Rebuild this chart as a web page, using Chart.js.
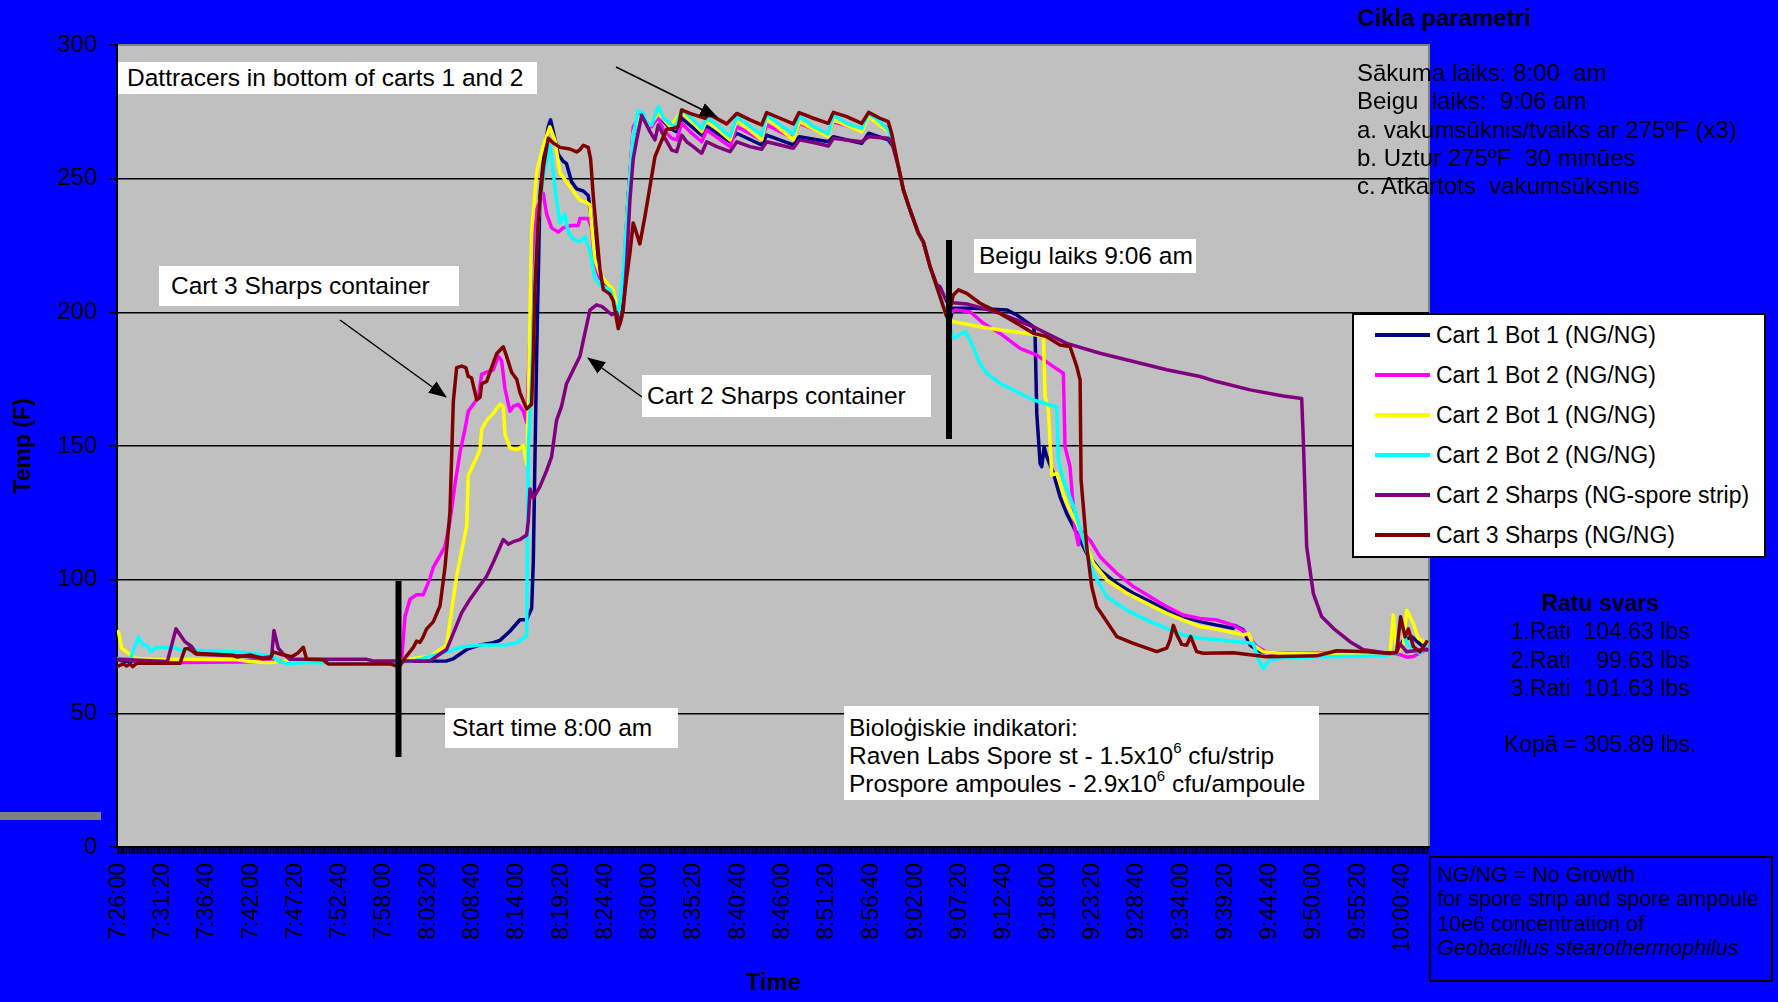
<!DOCTYPE html>
<html>
<head>
<meta charset="utf-8">
<script src="https://cdn.jsdelivr.net/npm/chart.js@4.4.1/dist/chart.umd.min.js"></script>
<style>
    html, body { margin: 0; padding: 0; }
    body {
        width: 1778px; height: 1002px; position: relative; overflow: hidden;
        background: #0000ff; color: #000;
        font-family: "Liberation Sans", Arial, sans-serif;
    }
    #chart { position: absolute; left: 0; top: 0; }
    .note {
        position: absolute; background: #fff; font-size: 24.5px; white-space: nowrap;
        box-sizing: border-box; display: flex; align-items: center;
    }
    .note sup { font-size: 15px; line-height: 0; position: relative; top: -2px; }
    #legend {
        position: absolute; left: 1352px; top: 313px; width: 414px; height: 245px;
        background: #fff; border: 2px solid #000; box-sizing: border-box;
    }
    #legend .row { height: 40px; display: flex; align-items: center; font-size: 23px; white-space: nowrap; }
    #legend .swatch { width: 55px; height: 4px; margin-left: 21px; margin-right: 6px; }
    .txt { position: absolute; font-size: 24px; white-space: nowrap; }
    #overlay { position: absolute; left: 0; top: 0; pointer-events: none; }
</style>
</head>
<body>
<canvas id="chart" width="1778" height="1002"></canvas>

<svg id="overlay" width="1778" height="1002">
    <defs>
        <marker id="ah" markerWidth="18" markerHeight="14" refX="17" refY="7" orient="auto" markerUnits="userSpaceOnUse">
            <path d="M0,0 L18,7 L0,14 z" fill="#000"/>
        </marker>
    </defs>
    <rect x="0" y="812" width="101" height="8" fill="#808080"/>
    <rect x="395.5" y="581" width="6" height="176" fill="#000"/>
    <rect x="946" y="240" width="6" height="199" fill="#000"/>
    <line x1="616" y1="67" x2="717" y2="117" stroke="#000" stroke-width="1.5" marker-end="url(#ah)"/>
    <line x1="340" y1="320" x2="446" y2="397" stroke="#000" stroke-width="1.5" marker-end="url(#ah)"/>
    <line x1="642" y1="397" x2="588" y2="358" stroke="#000" stroke-width="1.5" marker-end="url(#ah)"/>
</svg>

<div class="note" style="left:118px; top:62px; width:419px; height:32px; padding-left:9px;">Dattracers in bottom of carts 1 and 2</div>
<div class="note" style="left:159px; top:266px; width:300px; height:40px; padding-left:12px;">Cart 3 Sharps container</div>
<div class="note" style="left:642px; top:375px; width:289px; height:42px; padding-left:5px;">Cart 2 Sharps container</div>
<div class="note" style="left:445px; top:708px; width:233px; height:40px; padding-left:7px;">Start time 8:00 am</div>
<div class="note" style="left:974px; top:239px; width:222px; height:34px; padding-left:5px;">Beigu laiks 9:06 am</div>
<div class="note" style="left:844px; top:706px; width:475px; height:94px; padding-left:5px; line-height:28px; display:block; padding-top:8px;">
    Bioloģiskie indikatori:<br>
    Raven Labs Spore st - 1.5x10<sup>6</sup> cfu/strip<br>
    Prospore ampoules - 2.9x10<sup>6</sup> cfu/ampoule
</div>

<div class="txt" style="left:1357px; top:4px; font-weight:bold; font-size:24px; line-height:28px;">Cikla parametri</div>
<div class="txt" style="left:1357px; top:59px; line-height:28.3px;">
    Sākuma laiks: 8:00&nbsp; am<br>
    Beigu&nbsp; laiks:&nbsp; 9:06 am<br>
    a. vakumsūknis/tvaiks ar 275ºF (x3)<br>
    b. Uztur 275ºF&nbsp; 30 minūes<br>
    c. Atkārtots&nbsp; vakumsūksnis
</div>

<div id="legend"></div>

<div class="txt" style="left:1430px; top:589px; width:340px; text-align:center; line-height:28.3px; font-size:23px;">
    <b>Ratu svars</b><br>
    1.Rati&nbsp; 104.63 lbs<br>
    2.Rati&nbsp;&nbsp;&nbsp; 99.63 lbs<br>
    3.Rati&nbsp; 101.63 lbs<br>
    <br>
    Kopā = 305.89 lbs.
</div>

<div class="txt" style="left:1429px; top:856px; width:344px; height:126px; border:2px solid #000; box-sizing:border-box; font-size:21.5px; line-height:24.4px; padding:5px 0 0 6px;">
    NG/NG = No Growth<br>
    for spore strip and spore ampoule<br>
    10e6 concentration of<br>
    <i>Geobacillus stearothermophilus</i>
</div>

<script>
(function () {

    //------------------------------ Data (time, °F) ------------------------------

    var seriesNames = ['Cart 1 Bot 1 (NG/NG)', 'Cart 1 Bot 2 (NG/NG)', 'Cart 2 Bot 1 (NG/NG)',
        'Cart 2 Bot 2 (NG/NG)', 'Cart 2 Sharps (NG-spore strip)', 'Cart 3 Sharps (NG/NG)'];
    var seriesColors = ['#000080', '#ff00ff', '#ffff00', '#00ffff', '#800080', '#800000'];

    // x axis labels (one every 16 samples of 20 s)
    var timeLabels = ['7:26:00', '7:31:20', '7:36:40', '7:42:00', '7:47:20', '7:52:40', '7:58:00',
        '8:03:20', '8:08:40', '8:14:00', '8:19:20', '8:24:40', '8:30:00', '8:35:20', '8:40:40',
        '8:46:00', '8:51:20', '8:56:40', '9:02:00', '9:07:20', '9:12:40', '9:18:00', '9:23:20',
        '9:28:40', '9:34:00', '9:39:20', '9:44:40', '9:50:00', '9:55:20', '10:00:40'];
    var yTicks = [0, 50, 100, 150, 200, 250, 300];

    var cart1Bot1 = [
        ['7:26:00', 70], ['7:26:40', 69.5], ['8:05:32', 69.6], ['8:06:20', 70.4], ['8:07:57', 73.9],
        ['8:09:33', 75.6], ['8:11:09', 76.4], ['8:11:57', 77.3], ['8:13:09', 80.7], ['8:14:22', 85],
        ['8:15:10', 85], ['8:15:46', 89.3], ['8:15:58', 106.5], ['8:16:22', 183.6], ['8:16:46', 243.7],
        ['8:17:22', 262.5], ['8:17:46', 269.4], ['8:18:03', 272], ['8:18:22', 267.7], ['8:18:58', 259.1],
        ['8:19:34', 256.5], ['8:19:58', 255.6], ['8:20:35', 248.8], ['8:21:11', 246.2], ['8:21:59', 245.4],
        ['8:22:35', 243.7], ['8:23:11', 230], ['8:23:48', 216.2], ['8:24:24', 211.1], ['8:25:00', 210.2],
        ['8:25:36', 205.9], ['8:26:12', 195.6], ['8:26:48', 211], ['8:27:24', 243.7], ['8:28:00', 266],
        ['8:28:24', 271.1], ['8:29:01', 274.5], ['8:30:01', 269.5], ['8:31:01', 273.8], ['8:32:26', 268.8],
        ['8:33:14', 267.6], ['8:33:50', 272.6], ['8:36:15', 266.3], ['8:36:51', 269.5], ['8:39:39', 263.8],
        ['8:40:28', 267], ['8:43:28', 262.6], ['8:44:04', 266.3], ['8:47:17', 262.6], ['8:48:00', 265.7],
        ['8:51:30', 263.8], ['8:52:06', 265.7], ['8:55:31', 263.2], ['8:56:21', 267], ['8:58:43', 264.5],
        ['8:59:20', 262], ['8:59:56', 254.5], ['9:00:32', 245.8], ['9:01:20', 238.3], ['9:02:20', 229.6],
        ['9:02:56', 226.4], ['9:03:45', 217.1], ['9:04:33', 209.6], ['9:05:21', 202.1], ['9:06:09', 197.1],
        ['9:06:33', 201.5], ['9:08:58', 201.5], ['9:12:59', 200.9], ['9:14:11', 199], ['9:16:11', 194.6],
        ['9:16:24', 190.9], ['9:16:36', 162.2], ['9:17:00', 143.5], ['9:17:12', 142.3], ['9:17:29', 149.7],
        ['9:17:48', 146], ['9:18:36', 139.8], ['9:19:24', 131], ['9:20:12', 124.8], ['9:21:25', 117.3],
        ['9:22:37', 109.8], ['9:24:13', 103.6], ['9:26:14', 98.6], ['9:28:14', 94.9], ['9:30:15', 91.8],
        ['9:32:15', 88.6], ['9:34:15', 86.1], ['9:36:16', 84.3], ['9:38:16', 83], ['9:40:16', 81.8],
        ['9:40:28', 82.8], ['9:41:28', 81.2], ['9:42:17', 75.5], ['9:43:29', 73], ['9:46:17', 72.4],
        ['9:58:20', 72.4], ['9:59:56', 72.8], ['10:00:45', 77.4], ['10:01:47', 78.6], ['10:03:33', 73.7]
    ];

    var cart1Bot2 = [
        ['7:26:00', 70.2], ['7:27:24', 70.2], ['7:28:00', 69.4], ['7:33:49', 69], ['7:46:40', 69.4],
        ['7:59:31', 69.2], ['8:00:07', 70], ['8:00:31', 86.2], ['8:01:07', 92.7], ['8:01:55', 94.4],
        ['8:02:43', 94.4], ['8:03:32', 100.5], ['8:03:56', 104.7], ['8:04:44', 109], ['8:05:20', 112.5],
        ['8:05:56', 121.9], ['8:06:32', 135.6], ['8:07:08', 147.6], ['8:07:44', 156.2], ['8:08:08', 163],
        ['8:08:45', 165.6], ['8:09:21', 168.2], ['8:09:45', 176.8], ['8:10:21', 177.6], ['8:11:09', 178.5],
        ['8:11:45', 183.6], ['8:12:09', 181.9], ['8:12:33', 171.6], ['8:13:09', 163], ['8:13:33', 164.8],
        ['8:14:10', 165.6], ['8:14:46', 163], ['8:15:10', 158.8], ['8:15:46', 209.4], ['8:16:22', 238.5],
        ['8:17:10', 244.5], ['8:17:34', 236.8], ['8:18:10', 231.6], ['8:18:58', 230], ['8:19:34', 231.6],
        ['8:20:35', 232.5], ['8:21:23', 232.5], ['8:21:35', 235.1], ['8:22:35', 235.1], ['8:22:59', 231.6],
        ['8:23:23', 217.9], ['8:23:59', 212.8], ['8:25:12', 209.4], ['8:26:12', 199], ['8:26:48', 213],
        ['8:27:24', 243.7], ['8:28:00', 269.4], ['8:29:01', 274.5], ['8:29:36', 271.1], ['8:30:13', 269.5],
        ['8:31:01', 273.2], ['8:31:38', 268.2], ['8:32:38', 265.1], ['8:33:14', 264.5], ['8:33:50', 270.7],
        ['8:34:50', 267.6], ['8:36:15', 263.8], ['8:36:51', 268.2], ['8:39:39', 262], ['8:40:28', 269.5],
        ['8:43:28', 264.5], ['8:44:04', 270.1], ['8:47:17', 265.1], ['8:48:00', 270.7], ['8:51:30', 266.3],
        ['8:52:06', 271.3], ['8:55:31', 268.2], ['8:56:21', 273.2], ['8:58:43', 268.8], ['8:59:20', 262],
        ['8:59:56', 254.5], ['9:00:32', 245.8], ['9:01:20', 238.3], ['9:02:20', 229.6], ['9:02:56', 226.4],
        ['9:03:45', 217.1], ['9:04:33', 209.6], ['9:05:21', 202.1], ['9:05:57', 196.5], ['9:06:09', 199.6],
        ['9:06:45', 200.9], ['9:08:34', 200.2], ['9:10:10', 195.9], ['9:12:11', 192.1], ['9:14:35', 186.5],
        ['9:16:36', 184], ['9:18:36', 179.7], ['9:19:48', 177.2], ['9:20:00', 149.7], ['9:20:36', 142.3],
        ['9:21:13', 118.6], ['9:21:37', 113], ['9:21:49', 118.6], ['9:23:01', 114.8], ['9:24:13', 108.6],
        ['9:26:14', 102.4], ['9:28:14', 97.4], ['9:30:15', 93.6], ['9:32:15', 89.9], ['9:34:15', 86.8],
        ['9:36:16', 85.5], ['9:38:16', 84.9], ['9:40:16', 83], ['9:41:40', 80.5], ['9:42:17', 78],
        ['9:43:05', 75], ['9:44:17', 72.8], ['9:46:17', 71.9], ['9:58:20', 72.5], ['10:00:20', 72],
        ['10:01:09', 71], ['10:01:57', 71.3], ['10:03:33', 74]
    ];

    var cart2Bot1 = [
        ['7:26:00', 80.6], ['7:26:23', 74.4], ['7:28:00', 70.6], ['7:30:00', 70.2], ['7:40:15', 70],
        ['7:41:51', 69.4], ['7:43:27', 69], ['7:44:40', 69], ['7:46:40', 70], ['7:59:31', 69.5],
        ['8:01:31', 70.5], ['8:03:32', 71.3], ['8:05:32', 75.6], ['8:05:56', 84.2], ['8:06:44', 101.3],
        ['8:07:57', 120.2], ['8:08:08', 139], ['8:09:33', 148.5], ['8:09:45', 156.2], ['8:10:21', 159.6],
        ['8:11:09', 162.2], ['8:11:57', 165.6], ['8:12:21', 164.8], ['8:12:33', 154.5], ['8:13:09', 149.3],
        ['8:13:58', 148.5], ['8:14:46', 150.2], ['8:15:10', 143.3], ['8:15:22', 166.5], ['8:15:46', 229.9],
        ['8:16:22', 252.2], ['8:17:10', 262.5], ['8:17:58', 269.4], ['8:18:35', 264.2], ['8:19:10', 252.2],
        ['8:19:58', 248.8], ['8:20:47', 245.4], ['8:21:35', 241.9], ['8:22:23', 241.1], ['8:22:47', 240.2],
        ['8:23:23', 219.6], ['8:23:59', 214.5], ['8:24:47', 211.1], ['8:25:36', 208.5], ['8:26:12', 199.1],
        ['8:26:48', 212.8], ['8:27:24', 242.8], ['8:28:00', 266.8], ['8:28:36', 272.8], ['8:29:12', 273.7],
        ['8:30:01', 270.1], ['8:31:01', 274.4], ['8:32:26', 269.5], ['8:33:50', 275.1], ['8:36:15', 267.6],
        ['8:36:51', 272], ['8:39:39', 264.5], ['8:40:28', 272], ['8:43:28', 264.5], ['8:44:04', 272.6],
        ['8:47:17', 264.5], ['8:48:00', 271.3], ['8:51:30', 265.7], ['8:52:06', 272], ['8:55:31', 267.6],
        ['8:56:21', 273.2], ['8:58:43', 267.6], ['8:59:20', 262], ['8:59:56', 254.5], ['9:00:32', 245.8],
        ['9:01:20', 238.3], ['9:02:20', 229.6], ['9:02:56', 226.4], ['9:03:45', 217.1], ['9:04:33', 209.6],
        ['9:05:21', 202.1], ['9:05:57', 195.9], ['9:06:09', 197.2], ['9:06:33', 196.5], ['9:09:46', 194.6],
        ['9:12:11', 193.4], ['9:15:23', 192.2], ['9:17:24', 191], ['9:17:36', 168.5], ['9:18:00', 163.5],
        ['9:18:24', 139.1], ['9:19:00', 139.8], ['9:20:12', 128.5], ['9:21:49', 118.6], ['9:23:25', 106.1],
        ['9:25:02', 99.9], ['9:27:26', 94.9], ['9:30:15', 90.5], ['9:32:15', 87.4], ['9:34:15', 84.9],
        ['9:36:16', 82.4], ['9:38:16', 81.5], ['9:41:28', 79.3], ['9:42:05', 79.9], ['9:42:41', 75.5],
        ['9:43:53', 73], ['9:46:17', 72.4], ['9:59:08', 71.8], ['9:59:32', 86.8], ['9:59:56', 72.4],
        ['10:00:45', 76], ['10:01:09', 88.6], ['10:01:57', 83.6], ['10:02:33', 78.1], ['10:03:33', 76]
    ];

    var cart2Bot2 = [
        ['7:26:00', 70.6], ['7:27:24', 70], ['7:28:24', 78.5], ['7:29:00', 75.6], ['7:29:24', 75.6],
        ['7:29:53', 73.1], ['7:30:34', 74.6], ['7:32:50', 74.6], ['7:33:25', 73.7], ['7:37:02', 73.4],
        ['7:40:15', 72.9], ['7:43:27', 71.9], ['7:44:39', 71.2], ['7:45:15', 69.7], ['7:46:15', 68.5],
        ['7:49:04', 69], ['7:59:31', 68.7], ['8:01:31', 69.6], ['8:03:32', 71.3], ['8:05:32', 73],
        ['8:07:08', 74.7], ['8:09:33', 75.6], ['8:12:45', 75.6], ['8:13:58', 76.4], ['8:15:10', 79],
        ['8:15:22', 149.3], ['8:15:46', 175], ['8:16:10', 214.5], ['8:16:34', 235.1], ['8:17:10', 250.5],
        ['8:17:58', 262.5], ['8:18:22', 252.2], ['8:18:46', 241.9], ['8:19:10', 233.4], ['8:19:46', 236.8],
        ['8:20:10', 229.9], ['8:20:47', 227.4], ['8:21:35', 226.5], ['8:22:11', 228.2], ['8:22:47', 223.1],
        ['8:23:23', 212.8], ['8:23:59', 210.2], ['8:25:12', 208.5], ['8:26:12', 199.1], ['8:26:48', 214.5],
        ['8:27:24', 241.9], ['8:28:00', 266], ['8:28:36', 275.4], ['8:29:12', 274.5], ['8:29:37', 271.3],
        ['8:30:13', 270.1], ['8:31:01', 276.9], ['8:31:38', 272.6], ['8:32:26', 270.7], ['8:33:02', 268.8],
        ['8:33:50', 275.9], ['8:34:50', 273.2], ['8:36:15', 268.8], ['8:36:51', 272.9], ['8:38:03', 270.1],
        ['8:39:39', 265.7], ['8:40:28', 273.2], ['8:42:04', 269.5], ['8:43:28', 266.3], ['8:44:04', 273.8],
        ['8:45:41', 270.1], ['8:47:17', 266.7], ['8:48:00', 273.5], ['8:49:42', 269.5], ['8:51:30', 266.7],
        ['8:52:06', 273.8], ['8:53:42', 270.7], ['8:55:31', 268.8], ['8:56:21', 274.4], ['8:57:43', 271.3],
        ['8:58:43', 268.2], ['8:59:20', 262], ['8:59:56', 254.5], ['9:00:32', 245.8], ['9:01:20', 238.3],
        ['9:02:20', 229.6], ['9:02:56', 226.4], ['9:03:45', 217.1], ['9:04:33', 209.6], ['9:05:21', 202.1],
        ['9:05:57', 195.9], ['9:06:09', 194.6], ['9:06:33', 190.3], ['9:07:58', 192.8], ['9:08:34', 189.6],
        ['9:09:46', 180.9], ['9:10:34', 177.2], ['9:12:11', 173.4], ['9:14:11', 170.3], ['9:16:11', 167.2],
        ['9:17:48', 165.7], ['9:19:00', 164.7], ['9:19:12', 144.8], ['9:19:48', 137.3], ['9:21:01', 127.3],
        ['9:22:13', 114.8], ['9:23:25', 102.4], ['9:25:02', 93.6], ['9:27:26', 88.6], ['9:30:15', 84.3],
        ['9:32:15', 81.8], ['9:34:15', 79.3], ['9:36:16', 78.1], ['9:38:16', 77.5], ['9:42:41', 76.2],
        ['9:43:17', 70], ['9:43:53', 66.8], ['9:44:41', 70], ['9:46:17', 70.6], ['9:50:18', 71.2],
        ['9:58:20', 71.4], ['9:59:56', 72.4], ['10:00:20', 86.1], ['10:01:09', 76.2], ['10:02:45', 72.4],
        ['10:03:33', 75.5]
    ];

    var cart2Sharps = [
        ['7:26:00', 70.2], ['7:31:54', 69.4], ['7:32:56', 81.6], ['7:34:01', 76.8], ['7:34:49', 75],
        ['7:35:25', 72.1], ['7:40:15', 71.5], ['7:43:27', 70.8], ['7:44:27', 71.2], ['7:44:44', 81],
        ['7:45:15', 74.4], ['7:45:51', 72.2], ['7:46:39', 70.2], ['7:55:54', 70.2], ['7:56:40', 69.6],
        ['8:03:32', 69.6], ['8:04:44', 72.2], ['8:05:32', 73.9], ['8:06:20', 79.9], ['8:07:20', 87.6],
        ['8:08:21', 92.7], ['8:09:33', 97.9], ['8:10:21', 101.3], ['8:11:09', 106.5], ['8:12:21', 115],
        ['8:12:57', 113.3], ['8:13:33', 114.2], ['8:14:22', 115], ['8:15:10', 116.7], ['8:15:22', 121.9],
        ['8:15:34', 133.9], ['8:15:58', 130.5], ['8:16:46', 134.8], ['8:17:34', 140.8], ['8:18:10', 145.9],
        ['8:18:46', 159.6], ['8:19:22', 164.8], ['8:19:58', 173.3], ['8:20:47', 178.5], ['8:21:35', 183.6],
        ['8:22:11', 192.2], ['8:22:47', 200.8], ['8:23:35', 202.8], ['8:24:12', 202.2], ['8:24:47', 200.8],
        ['8:25:24', 199.1], ['8:26:00', 199.9], ['8:26:24', 195.6], ['8:26:48', 200.8], ['8:27:12', 218],
        ['8:27:36', 242], ['8:28:00', 257.4], ['8:28:24', 264.2], ['8:29:01', 273.7], ['8:30:01', 267.6],
        ['8:30:37', 264.5], ['8:31:01', 270.1], ['8:31:50', 265.1], ['8:32:38', 260.7], ['8:33:14', 260.1],
        ['8:33:50', 266.3], ['8:34:26', 263.8], ['8:35:14', 262], ['8:36:15', 259.5], ['8:36:51', 263.8],
        ['8:38:03', 262], ['8:39:39', 260.1], ['8:40:28', 263.8], ['8:42:04', 262], ['8:43:28', 261],
        ['8:44:04', 263.8], ['8:45:41', 262.6], ['8:47:17', 261.4], ['8:48:00', 264.5], ['8:49:42', 263.5],
        ['8:51:30', 262.2], ['8:52:06', 265.1], ['8:53:42', 264.5], ['8:55:31', 263.8], ['8:56:21', 265.7],
        ['8:58:43', 265.1], ['8:59:07', 263.8], ['8:59:56', 254.5], ['9:00:32', 245.8], ['9:01:20', 238.3],
        ['9:02:20', 229.6], ['9:02:56', 226.4], ['9:03:45', 217.1], ['9:04:33', 210.4], ['9:04:57', 209.6],
        ['9:05:45', 204], ['9:06:33', 203.6], ['9:08:10', 203.1], ['9:10:10', 201.5], ['9:12:11', 199.6],
        ['9:14:11', 197.1], ['9:16:11', 194.6], ['9:20:12', 188.4], ['9:24:13', 184.7], ['9:28:14', 181.6],
        ['9:32:15', 178.5], ['9:36:16', 176], ['9:38:16', 174.1], ['9:42:17', 171], ['9:46:17', 168.7],
        ['9:48:30', 167.8], ['9:48:42', 152.2], ['9:49:06', 112.4], ['9:49:54', 94.9], ['9:50:54', 86.2],
        ['9:52:19', 81.8], ['9:54:19', 76.8], ['9:55:56', 73.8], ['9:58:20', 72.8], ['9:59:56', 72.6],
        ['10:00:20', 76], ['10:01:09', 73], ['10:03:33', 74]
    ];

    var cart3Sharps = [
        ['7:26:00', 67.7], ['7:26:35', 68.5], ['7:26:59', 67.7], ['7:27:24', 68.5], ['7:27:43', 67.5],
        ['7:28:12', 68.7], ['7:33:25', 68.7], ['7:34:01', 74.1], ['7:34:25', 74.3], ['7:35:13', 72.5],
        ['7:39:50', 71.7], ['7:40:15', 71.1], ['7:41:51', 71.8], ['7:43:27', 70.4], ['7:44:15', 70.6],
        ['7:44:39', 73], ['7:45:40', 72], ['7:46:52', 71.2], ['7:47:40', 72.7], ['7:48:16', 74.7],
        ['7:48:40', 70.2], ['7:50:40', 70], ['7:51:16', 68.5], ['7:58:43', 68.5], ['7:59:31', 67.7],
        ['7:59:55', 67.9], ['8:00:43', 71.5], ['8:01:31', 74.7], ['8:01:55', 77], ['8:02:19', 76.5],
        ['8:02:43', 78.7], ['8:03:07', 81.6], ['8:03:55', 84.2], ['8:04:44', 90.2], ['8:05:20', 104.7],
        ['8:05:56', 125.3], ['8:06:20', 166.5], ['8:06:44', 179.3], ['8:07:20', 179.9], ['8:07:51', 179.3],
        ['8:08:08', 176], ['8:08:32', 175.5], ['8:09:09', 167.3], ['8:09:33', 168.2], ['8:09:45', 173.3],
        ['8:10:21', 174.2], ['8:10:57', 179.3], ['8:11:33', 184.5], ['8:12:21', 187.1], ['8:12:45', 183.6],
        ['8:13:21', 177.6], ['8:13:58', 175], ['8:14:22', 169.9], ['8:15:10', 163.9], ['8:15:46', 165.6],
        ['8:15:58', 183.6], ['8:16:10', 209.4], ['8:16:34', 235], ['8:17:10', 254], ['8:17:46', 265.1],
        ['8:18:22', 263.4], ['8:19:10', 261.7], ['8:20:23', 261.1], ['8:21:11', 260], ['8:21:35', 260.8],
        ['8:21:59', 262.5], ['8:22:35', 261.7], ['8:22:52', 257.4], ['8:23:11', 243.7], ['8:23:35', 230],
        ['8:23:59', 216.2], ['8:24:24', 208.5], ['8:25:12', 206.8], ['8:25:36', 204.2], ['8:26:12', 193.9],
        ['8:26:36', 198.2], ['8:26:48', 202.5], ['8:27:12', 212.8], ['8:27:36', 222.2], ['8:28:00', 233.4],
        ['8:28:12', 231.6], ['8:28:48', 225.6], ['8:29:25', 236], ['8:30:01', 247.1], ['8:30:37', 258.2],
        ['8:31:25', 264.2], ['8:32:02', 268.5], ['8:32:50', 268.8], ['8:33:26', 269.5], ['8:33:50', 275.7],
        ['8:34:50', 274.4], ['8:36:02', 273.2], ['8:36:39', 272.6], ['8:37:03', 273.8], ['8:37:39', 273.2],
        ['8:39:15', 270.5], ['8:40:28', 274.4], ['8:42:04', 272], ['8:43:28', 270.1], ['8:44:04', 274.7],
        ['8:45:41', 272.6], ['8:47:17', 270.5], ['8:47:58', 274.7], ['8:49:42', 272.6], ['8:51:30', 270.7],
        ['8:52:06', 274.8], ['8:53:42', 273.2], ['8:55:31', 270.7], ['8:56:21', 274.8], ['8:57:43', 272.6],
        ['8:58:43', 271.3], ['8:59:07', 267], ['8:59:32', 260.7], ['8:59:56', 254.5], ['9:00:32', 245.8],
        ['9:01:20', 238.3], ['9:02:20', 229.6], ['9:02:56', 226.4], ['9:03:45', 217.1], ['9:04:33', 209.6],
        ['9:05:21', 202.1], ['9:05:45', 198.4], ['9:06:09', 201], ['9:06:33', 206.5], ['9:07:10', 208.4],
        ['9:08:10', 207.1], ['9:09:46', 203.4], ['9:12:11', 199.6], ['9:14:11', 195.9], ['9:16:11', 192.2],
        ['9:17:48', 190.9], ['9:19:24', 187.8], ['9:20:36', 187.2], ['9:21:25', 179.7], ['9:21:49', 174.7],
        ['9:21:56', 137.3], ['9:22:37', 112.3], ['9:23:13', 97.4], ['9:23:49', 89.9], ['9:24:37', 86.2],
        ['9:26:14', 78.7], ['9:28:14', 76.2], ['9:31:03', 73.1], ['9:32:15', 74.4], ['9:32:39', 77.5],
        ['9:33:03', 82.9], ['9:33:27', 79.5], ['9:34:03', 75.8], ['9:34:39', 75.5], ['9:35:08', 78.7],
        ['9:35:51', 73.1], ['9:36:39', 72.5], ['9:40:16', 72.7], ['9:44:17', 71.2], ['9:50:18', 71.5],
        ['9:52:43', 73.4], ['9:56:20', 73], ['9:59:08', 72.4], ['9:59:56', 73], ['10:00:25', 86.1],
        ['10:00:57', 78.6], ['10:01:21', 81.6], ['10:01:57', 75], ['10:02:45', 73], ['10:03:33', 76.8]
    ];

    var allSeries = [cart1Bot1, cart1Bot2, cart2Bot1, cart2Bot2, cart2Sharps, cart3Sharps];

    //------------------------------ Helpers ------------------------------

    function toSec(s) {
        var p = s.split(':').map(Number);
        return p[0] * 3600 + p[1] * 60 + p[2];
    }
    function pad(n) { return (n < 10 ? '0' : '') + n; }
    function fmt(sec) {
        var h = Math.floor(sec / 3600);
        var m = Math.floor((sec % 3600) / 60);
        return h + ':' + pad(m) + ':' + pad(sec % 60);
    }

    var sampleStep = 20;                                   // logger interval, seconds
    var firstSample = toSec(timeLabels[0]);
    var xMin = firstSample - sampleStep / 2;
    var xMax = xMin + 474 * sampleStep;
    var labelSet = {};
    timeLabels.forEach(function (t) { labelSet[t] = true; });

    //------------------------------ Plot background ------------------------------

    var plotBackground = {
        id: 'plotBackground',
        beforeDraw: function (chart) {
            var a = chart.chartArea, ctx = chart.ctx;
            ctx.save();
            ctx.fillStyle = '#c0c0c0';
            ctx.fillRect(a.left, a.top, a.right - a.left, a.bottom - a.top);
            ctx.strokeStyle = '#808080';
            ctx.lineWidth = 2;
            ctx.beginPath();
            ctx.moveTo(a.left, a.top);
            ctx.lineTo(a.right, a.top);
            ctx.lineTo(a.right, a.bottom);
            ctx.stroke();
            ctx.restore();
        }
    };

    //------------------------------ Chart ------------------------------

    var datasets = allSeries.map(function (series, i) {
        return {
            label: seriesNames[i],
            data: series.map(function (p) { return { x: toSec(p[0]), y: p[1] }; }),
            borderColor: seriesColors[i],
            backgroundColor: seriesColors[i],
            borderWidth: 3.5,
            pointRadius: 0,
            tension: 0,
            fill: false,
            borderJoinStyle: 'round',
            borderCapStyle: 'round',
            order: allSeries.length - 1 - i
        };
    });

    var ctx = document.getElementById('chart').getContext('2d');
    var chart = new Chart(ctx, {
        type: 'line',
        data: { datasets: datasets },
        plugins: [plotBackground],
        options: {
            responsive: false,
            devicePixelRatio: 1,
            animation: false,
            events: [],
            layout: { padding: { left: 0, top: 45, right: 349, bottom: 0 } },
            plugins: { legend: { display: false }, tooltip: { enabled: false } },
            scales: {
                x: {
                    type: 'linear',
                    min: xMin,
                    max: xMax,
                    afterFit: function (scale) { scale.height = 155; },
                    afterBuildTicks: function (scale) {
                        var t = [];
                        for (var v = firstSample; v < xMax; v += sampleStep) t.push({ value: v });
                        scale.ticks = t;
                    },
                    border: { display: true, color: '#000', width: 2 },
                    grid: { drawOnChartArea: false, drawTicks: true, tickLength: 7, tickColor: '#000', tickWidth: 2 },
                    ticks: {
                        autoSkip: false,
                        minRotation: 90,
                        maxRotation: 90,
                        padding: 9,
                        color: '#000',
                        font: { family: '"Liberation Sans", Arial, sans-serif', size: 23 },
                        callback: function (value) {
                            var s = fmt(value);
                            return labelSet[s] ? s : '';
                        }
                    },
                    title: {
                        display: true,
                        text: 'Time',
                        color: '#000',
                        font: { family: '"Liberation Sans", Arial, sans-serif', size: 24, weight: 'bold' },
                        padding: { top: 0, bottom: 4 }
                    }
                },
                y: {
                    min: yTicks[0],
                    max: yTicks[yTicks.length - 1],
                    afterFit: function (scale) { scale.width = 117; },
                    border: { display: true, color: '#000', width: 2 },
                    grid: {
                        color: function (c) { return c.tick && c.tick.value === 300 ? '#808080' : '#000'; },
                        lineWidth: 1.5,
                        tickLength: 8,
                        tickColor: '#000'
                    },
                    ticks: {
                        stepSize: yTicks[1] - yTicks[0],
                        padding: 12,
                        color: '#000',
                        font: { family: '"Liberation Sans", Arial, sans-serif', size: 24 }
                    },
                    title: {
                        display: true,
                        text: 'Temp (F)',
                        color: '#000',
                        font: { family: '"Liberation Sans", Arial, sans-serif', size: 23, weight: 'bold' },
                        padding: { top: 10, bottom: 0 }
                    }
                }
            }
        }
    });

    //------------------------------ Legend box ------------------------------

    var legendBox = document.getElementById('legend');
    chart.data.datasets.forEach(function (ds) {
        var row = document.createElement('div');
        row.className = 'row';
        var sw = document.createElement('span');
        sw.className = 'swatch';
        sw.style.background = ds.borderColor;
        row.appendChild(sw);
        row.appendChild(document.createTextNode(ds.label));
        legendBox.appendChild(row);
    });

})();
</script>
</body>
</html>
